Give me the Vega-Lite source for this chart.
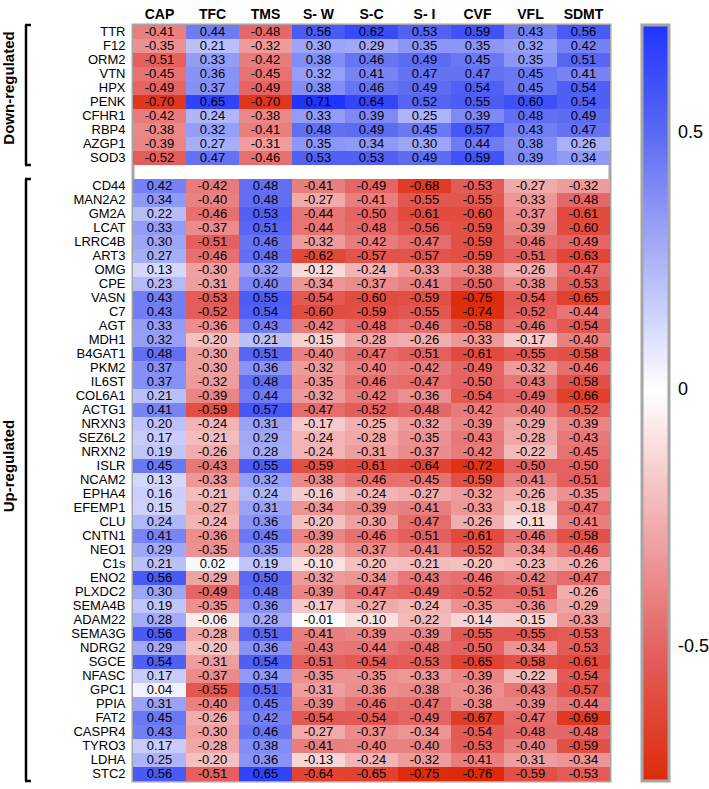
{
"$schema": "https://vega.github.io/schema/vega-lite/v6.json",
"padding": {"left": 0, "top": 5, "right": 0, "bottom": 5},
"config": {
  "font": "Liberation Sans",
  "locale": {"number": {"decimal": ".", "thousands": ",", "grouping": [3], "currency": ["$", ""], "minus": "-"}},
  "view": {"stroke": null}
},
"datasets": {
"groups": [
  {"group": "Down-regulated", "start": "TTR", "end": "SOD3", "mid": "HPX"},
  {"group": "Up-regulated", "start": "CD44", "end": "STC2", "mid": "ISLR"}
],
"cells": [
{"g":"TTR","m":"CAP","r":-0.41},{"g":"TTR","m":"TFC","r":0.44},{"g":"TTR","m":"TMS","r":-0.48},{"g":"TTR","m":"S- W","r":0.56},{"g":"TTR","m":"S-C","r":0.62},{"g":"TTR","m":"S- I","r":0.53},{"g":"TTR","m":"CVF","r":0.59},{"g":"TTR","m":"VFL","r":0.43},{"g":"TTR","m":"SDMT","r":0.56},
{"g":"F12","m":"CAP","r":-0.35},{"g":"F12","m":"TFC","r":0.21},{"g":"F12","m":"TMS","r":-0.32},{"g":"F12","m":"S- W","r":0.30},{"g":"F12","m":"S-C","r":0.29},{"g":"F12","m":"S- I","r":0.35},{"g":"F12","m":"CVF","r":0.35},{"g":"F12","m":"VFL","r":0.32},{"g":"F12","m":"SDMT","r":0.42},
{"g":"ORM2","m":"CAP","r":-0.51},{"g":"ORM2","m":"TFC","r":0.33},{"g":"ORM2","m":"TMS","r":-0.42},{"g":"ORM2","m":"S- W","r":0.38},{"g":"ORM2","m":"S-C","r":0.46},{"g":"ORM2","m":"S- I","r":0.49},{"g":"ORM2","m":"CVF","r":0.45},{"g":"ORM2","m":"VFL","r":0.35},{"g":"ORM2","m":"SDMT","r":0.51},
{"g":"VTN","m":"CAP","r":-0.45},{"g":"VTN","m":"TFC","r":0.36},{"g":"VTN","m":"TMS","r":-0.45},{"g":"VTN","m":"S- W","r":0.32},{"g":"VTN","m":"S-C","r":0.41},{"g":"VTN","m":"S- I","r":0.47},{"g":"VTN","m":"CVF","r":0.47},{"g":"VTN","m":"VFL","r":0.45},{"g":"VTN","m":"SDMT","r":0.41},
{"g":"HPX","m":"CAP","r":-0.49},{"g":"HPX","m":"TFC","r":0.37},{"g":"HPX","m":"TMS","r":-0.49},{"g":"HPX","m":"S- W","r":0.38},{"g":"HPX","m":"S-C","r":0.46},{"g":"HPX","m":"S- I","r":0.49},{"g":"HPX","m":"CVF","r":0.54},{"g":"HPX","m":"VFL","r":0.45},{"g":"HPX","m":"SDMT","r":0.54},
{"g":"PENK","m":"CAP","r":-0.70},{"g":"PENK","m":"TFC","r":0.65},{"g":"PENK","m":"TMS","r":-0.70},{"g":"PENK","m":"S- W","r":0.71},{"g":"PENK","m":"S-C","r":0.64},{"g":"PENK","m":"S- I","r":0.52},{"g":"PENK","m":"CVF","r":0.55},{"g":"PENK","m":"VFL","r":0.60},{"g":"PENK","m":"SDMT","r":0.54},
{"g":"CFHR1","m":"CAP","r":-0.42},{"g":"CFHR1","m":"TFC","r":0.24},{"g":"CFHR1","m":"TMS","r":-0.38},{"g":"CFHR1","m":"S- W","r":0.33},{"g":"CFHR1","m":"S-C","r":0.39},{"g":"CFHR1","m":"S- I","r":0.25},{"g":"CFHR1","m":"CVF","r":0.39},{"g":"CFHR1","m":"VFL","r":0.48},{"g":"CFHR1","m":"SDMT","r":0.49},
{"g":"RBP4","m":"CAP","r":-0.38},{"g":"RBP4","m":"TFC","r":0.32},{"g":"RBP4","m":"TMS","r":-0.41},{"g":"RBP4","m":"S- W","r":0.48},{"g":"RBP4","m":"S-C","r":0.49},{"g":"RBP4","m":"S- I","r":0.45},{"g":"RBP4","m":"CVF","r":0.57},{"g":"RBP4","m":"VFL","r":0.43},{"g":"RBP4","m":"SDMT","r":0.47},
{"g":"AZGP1","m":"CAP","r":-0.39},{"g":"AZGP1","m":"TFC","r":0.27},{"g":"AZGP1","m":"TMS","r":-0.31},{"g":"AZGP1","m":"S- W","r":0.35},{"g":"AZGP1","m":"S-C","r":0.34},{"g":"AZGP1","m":"S- I","r":0.30},{"g":"AZGP1","m":"CVF","r":0.44},{"g":"AZGP1","m":"VFL","r":0.38},{"g":"AZGP1","m":"SDMT","r":0.26},
{"g":"SOD3","m":"CAP","r":-0.52},{"g":"SOD3","m":"TFC","r":0.47},{"g":"SOD3","m":"TMS","r":-0.46},{"g":"SOD3","m":"S- W","r":0.53},{"g":"SOD3","m":"S-C","r":0.53},{"g":"SOD3","m":"S- I","r":0.49},{"g":"SOD3","m":"CVF","r":0.59},{"g":"SOD3","m":"VFL","r":0.39},{"g":"SOD3","m":"SDMT","r":0.34},
{"g":"CD44","m":"CAP","r":0.42},{"g":"CD44","m":"TFC","r":-0.42},{"g":"CD44","m":"TMS","r":0.48},{"g":"CD44","m":"S- W","r":-0.41},{"g":"CD44","m":"S-C","r":-0.49},{"g":"CD44","m":"S- I","r":-0.68},{"g":"CD44","m":"CVF","r":-0.53},{"g":"CD44","m":"VFL","r":-0.27},{"g":"CD44","m":"SDMT","r":-0.32},
{"g":"MAN2A2","m":"CAP","r":0.34},{"g":"MAN2A2","m":"TFC","r":-0.40},{"g":"MAN2A2","m":"TMS","r":0.48},{"g":"MAN2A2","m":"S- W","r":-0.27},{"g":"MAN2A2","m":"S-C","r":-0.41},{"g":"MAN2A2","m":"S- I","r":-0.55},{"g":"MAN2A2","m":"CVF","r":-0.55},{"g":"MAN2A2","m":"VFL","r":-0.33},{"g":"MAN2A2","m":"SDMT","r":-0.48},
{"g":"GM2A","m":"CAP","r":0.22},{"g":"GM2A","m":"TFC","r":-0.46},{"g":"GM2A","m":"TMS","r":0.53},{"g":"GM2A","m":"S- W","r":-0.44},{"g":"GM2A","m":"S-C","r":-0.50},{"g":"GM2A","m":"S- I","r":-0.61},{"g":"GM2A","m":"CVF","r":-0.60},{"g":"GM2A","m":"VFL","r":-0.37},{"g":"GM2A","m":"SDMT","r":-0.61},
{"g":"LCAT","m":"CAP","r":0.33},{"g":"LCAT","m":"TFC","r":-0.37},{"g":"LCAT","m":"TMS","r":0.51},{"g":"LCAT","m":"S- W","r":-0.44},{"g":"LCAT","m":"S-C","r":-0.48},{"g":"LCAT","m":"S- I","r":-0.56},{"g":"LCAT","m":"CVF","r":-0.59},{"g":"LCAT","m":"VFL","r":-0.39},{"g":"LCAT","m":"SDMT","r":-0.60},
{"g":"LRRC4B","m":"CAP","r":0.30},{"g":"LRRC4B","m":"TFC","r":-0.51},{"g":"LRRC4B","m":"TMS","r":0.46},{"g":"LRRC4B","m":"S- W","r":-0.32},{"g":"LRRC4B","m":"S-C","r":-0.42},{"g":"LRRC4B","m":"S- I","r":-0.47},{"g":"LRRC4B","m":"CVF","r":-0.59},{"g":"LRRC4B","m":"VFL","r":-0.46},{"g":"LRRC4B","m":"SDMT","r":-0.49},
{"g":"ART3","m":"CAP","r":0.27},{"g":"ART3","m":"TFC","r":-0.46},{"g":"ART3","m":"TMS","r":0.48},{"g":"ART3","m":"S- W","r":-0.62},{"g":"ART3","m":"S-C","r":-0.57},{"g":"ART3","m":"S- I","r":-0.57},{"g":"ART3","m":"CVF","r":-0.59},{"g":"ART3","m":"VFL","r":-0.51},{"g":"ART3","m":"SDMT","r":-0.63},
{"g":"OMG","m":"CAP","r":0.13},{"g":"OMG","m":"TFC","r":-0.30},{"g":"OMG","m":"TMS","r":0.32},{"g":"OMG","m":"S- W","r":-0.12},{"g":"OMG","m":"S-C","r":-0.24},{"g":"OMG","m":"S- I","r":-0.33},{"g":"OMG","m":"CVF","r":-0.38},{"g":"OMG","m":"VFL","r":-0.26},{"g":"OMG","m":"SDMT","r":-0.47},
{"g":"CPE","m":"CAP","r":0.23},{"g":"CPE","m":"TFC","r":-0.31},{"g":"CPE","m":"TMS","r":0.40},{"g":"CPE","m":"S- W","r":-0.34},{"g":"CPE","m":"S-C","r":-0.37},{"g":"CPE","m":"S- I","r":-0.41},{"g":"CPE","m":"CVF","r":-0.50},{"g":"CPE","m":"VFL","r":-0.38},{"g":"CPE","m":"SDMT","r":-0.53},
{"g":"VASN","m":"CAP","r":0.43},{"g":"VASN","m":"TFC","r":-0.53},{"g":"VASN","m":"TMS","r":0.55},{"g":"VASN","m":"S- W","r":-0.54},{"g":"VASN","m":"S-C","r":-0.60},{"g":"VASN","m":"S- I","r":-0.59},{"g":"VASN","m":"CVF","r":-0.75},{"g":"VASN","m":"VFL","r":-0.54},{"g":"VASN","m":"SDMT","r":-0.65},
{"g":"C7","m":"CAP","r":0.43},{"g":"C7","m":"TFC","r":-0.52},{"g":"C7","m":"TMS","r":0.54},{"g":"C7","m":"S- W","r":-0.60},{"g":"C7","m":"S-C","r":-0.59},{"g":"C7","m":"S- I","r":-0.55},{"g":"C7","m":"CVF","r":-0.74},{"g":"C7","m":"VFL","r":-0.52},{"g":"C7","m":"SDMT","r":-0.44},
{"g":"AGT","m":"CAP","r":0.33},{"g":"AGT","m":"TFC","r":-0.36},{"g":"AGT","m":"TMS","r":0.43},{"g":"AGT","m":"S- W","r":-0.42},{"g":"AGT","m":"S-C","r":-0.48},{"g":"AGT","m":"S- I","r":-0.46},{"g":"AGT","m":"CVF","r":-0.58},{"g":"AGT","m":"VFL","r":-0.46},{"g":"AGT","m":"SDMT","r":-0.54},
{"g":"MDH1","m":"CAP","r":0.32},{"g":"MDH1","m":"TFC","r":-0.20},{"g":"MDH1","m":"TMS","r":0.21},{"g":"MDH1","m":"S- W","r":-0.15},{"g":"MDH1","m":"S-C","r":-0.28},{"g":"MDH1","m":"S- I","r":-0.26},{"g":"MDH1","m":"CVF","r":-0.33},{"g":"MDH1","m":"VFL","r":-0.17},{"g":"MDH1","m":"SDMT","r":-0.40},
{"g":"B4GAT1","m":"CAP","r":0.48},{"g":"B4GAT1","m":"TFC","r":-0.30},{"g":"B4GAT1","m":"TMS","r":0.51},{"g":"B4GAT1","m":"S- W","r":-0.40},{"g":"B4GAT1","m":"S-C","r":-0.47},{"g":"B4GAT1","m":"S- I","r":-0.51},{"g":"B4GAT1","m":"CVF","r":-0.61},{"g":"B4GAT1","m":"VFL","r":-0.55},{"g":"B4GAT1","m":"SDMT","r":-0.58},
{"g":"PKM2","m":"CAP","r":0.37},{"g":"PKM2","m":"TFC","r":-0.30},{"g":"PKM2","m":"TMS","r":0.36},{"g":"PKM2","m":"S- W","r":-0.32},{"g":"PKM2","m":"S-C","r":-0.40},{"g":"PKM2","m":"S- I","r":-0.42},{"g":"PKM2","m":"CVF","r":-0.49},{"g":"PKM2","m":"VFL","r":-0.32},{"g":"PKM2","m":"SDMT","r":-0.46},
{"g":"IL6ST","m":"CAP","r":0.37},{"g":"IL6ST","m":"TFC","r":-0.32},{"g":"IL6ST","m":"TMS","r":0.48},{"g":"IL6ST","m":"S- W","r":-0.35},{"g":"IL6ST","m":"S-C","r":-0.46},{"g":"IL6ST","m":"S- I","r":-0.47},{"g":"IL6ST","m":"CVF","r":-0.50},{"g":"IL6ST","m":"VFL","r":-0.43},{"g":"IL6ST","m":"SDMT","r":-0.58},
{"g":"COL6A1","m":"CAP","r":0.21},{"g":"COL6A1","m":"TFC","r":-0.39},{"g":"COL6A1","m":"TMS","r":0.44},{"g":"COL6A1","m":"S- W","r":-0.32},{"g":"COL6A1","m":"S-C","r":-0.42},{"g":"COL6A1","m":"S- I","r":-0.36},{"g":"COL6A1","m":"CVF","r":-0.54},{"g":"COL6A1","m":"VFL","r":-0.49},{"g":"COL6A1","m":"SDMT","r":-0.66},
{"g":"ACTG1","m":"CAP","r":0.41},{"g":"ACTG1","m":"TFC","r":-0.59},{"g":"ACTG1","m":"TMS","r":0.57},{"g":"ACTG1","m":"S- W","r":-0.47},{"g":"ACTG1","m":"S-C","r":-0.52},{"g":"ACTG1","m":"S- I","r":-0.48},{"g":"ACTG1","m":"CVF","r":-0.42},{"g":"ACTG1","m":"VFL","r":-0.40},{"g":"ACTG1","m":"SDMT","r":-0.52},
{"g":"NRXN3","m":"CAP","r":0.20},{"g":"NRXN3","m":"TFC","r":-0.24},{"g":"NRXN3","m":"TMS","r":0.31},{"g":"NRXN3","m":"S- W","r":-0.17},{"g":"NRXN3","m":"S-C","r":-0.25},{"g":"NRXN3","m":"S- I","r":-0.32},{"g":"NRXN3","m":"CVF","r":-0.39},{"g":"NRXN3","m":"VFL","r":-0.29},{"g":"NRXN3","m":"SDMT","r":-0.39},
{"g":"SEZ6L2","m":"CAP","r":0.17},{"g":"SEZ6L2","m":"TFC","r":-0.21},{"g":"SEZ6L2","m":"TMS","r":0.29},{"g":"SEZ6L2","m":"S- W","r":-0.24},{"g":"SEZ6L2","m":"S-C","r":-0.28},{"g":"SEZ6L2","m":"S- I","r":-0.35},{"g":"SEZ6L2","m":"CVF","r":-0.43},{"g":"SEZ6L2","m":"VFL","r":-0.28},{"g":"SEZ6L2","m":"SDMT","r":-0.43},
{"g":"NRXN2","m":"CAP","r":0.19},{"g":"NRXN2","m":"TFC","r":-0.26},{"g":"NRXN2","m":"TMS","r":0.28},{"g":"NRXN2","m":"S- W","r":-0.24},{"g":"NRXN2","m":"S-C","r":-0.31},{"g":"NRXN2","m":"S- I","r":-0.37},{"g":"NRXN2","m":"CVF","r":-0.42},{"g":"NRXN2","m":"VFL","r":-0.22},{"g":"NRXN2","m":"SDMT","r":-0.45},
{"g":"ISLR","m":"CAP","r":0.45},{"g":"ISLR","m":"TFC","r":-0.43},{"g":"ISLR","m":"TMS","r":0.55},{"g":"ISLR","m":"S- W","r":-0.59},{"g":"ISLR","m":"S-C","r":-0.61},{"g":"ISLR","m":"S- I","r":-0.64},{"g":"ISLR","m":"CVF","r":-0.72},{"g":"ISLR","m":"VFL","r":-0.50},{"g":"ISLR","m":"SDMT","r":-0.50},
{"g":"NCAM2","m":"CAP","r":0.13},{"g":"NCAM2","m":"TFC","r":-0.33},{"g":"NCAM2","m":"TMS","r":0.32},{"g":"NCAM2","m":"S- W","r":-0.38},{"g":"NCAM2","m":"S-C","r":-0.46},{"g":"NCAM2","m":"S- I","r":-0.45},{"g":"NCAM2","m":"CVF","r":-0.59},{"g":"NCAM2","m":"VFL","r":-0.41},{"g":"NCAM2","m":"SDMT","r":-0.51},
{"g":"EPHA4","m":"CAP","r":0.16},{"g":"EPHA4","m":"TFC","r":-0.21},{"g":"EPHA4","m":"TMS","r":0.24},{"g":"EPHA4","m":"S- W","r":-0.16},{"g":"EPHA4","m":"S-C","r":-0.24},{"g":"EPHA4","m":"S- I","r":-0.27},{"g":"EPHA4","m":"CVF","r":-0.32},{"g":"EPHA4","m":"VFL","r":-0.26},{"g":"EPHA4","m":"SDMT","r":-0.35},
{"g":"EFEMP1","m":"CAP","r":0.15},{"g":"EFEMP1","m":"TFC","r":-0.27},{"g":"EFEMP1","m":"TMS","r":0.31},{"g":"EFEMP1","m":"S- W","r":-0.34},{"g":"EFEMP1","m":"S-C","r":-0.39},{"g":"EFEMP1","m":"S- I","r":-0.41},{"g":"EFEMP1","m":"CVF","r":-0.33},{"g":"EFEMP1","m":"VFL","r":-0.18},{"g":"EFEMP1","m":"SDMT","r":-0.47},
{"g":"CLU","m":"CAP","r":0.24},{"g":"CLU","m":"TFC","r":-0.24},{"g":"CLU","m":"TMS","r":0.36},{"g":"CLU","m":"S- W","r":-0.20},{"g":"CLU","m":"S-C","r":-0.30},{"g":"CLU","m":"S- I","r":-0.47},{"g":"CLU","m":"CVF","r":-0.26},{"g":"CLU","m":"VFL","r":-0.11},{"g":"CLU","m":"SDMT","r":-0.41},
{"g":"CNTN1","m":"CAP","r":0.41},{"g":"CNTN1","m":"TFC","r":-0.36},{"g":"CNTN1","m":"TMS","r":0.45},{"g":"CNTN1","m":"S- W","r":-0.39},{"g":"CNTN1","m":"S-C","r":-0.46},{"g":"CNTN1","m":"S- I","r":-0.51},{"g":"CNTN1","m":"CVF","r":-0.61},{"g":"CNTN1","m":"VFL","r":-0.46},{"g":"CNTN1","m":"SDMT","r":-0.58},
{"g":"NEO1","m":"CAP","r":0.29},{"g":"NEO1","m":"TFC","r":-0.35},{"g":"NEO1","m":"TMS","r":0.35},{"g":"NEO1","m":"S- W","r":-0.28},{"g":"NEO1","m":"S-C","r":-0.37},{"g":"NEO1","m":"S- I","r":-0.41},{"g":"NEO1","m":"CVF","r":-0.52},{"g":"NEO1","m":"VFL","r":-0.34},{"g":"NEO1","m":"SDMT","r":-0.46},
{"g":"C1s","m":"CAP","r":0.21},{"g":"C1s","m":"TFC","r":0.02},{"g":"C1s","m":"TMS","r":0.19},{"g":"C1s","m":"S- W","r":-0.10},{"g":"C1s","m":"S-C","r":-0.20},{"g":"C1s","m":"S- I","r":-0.21},{"g":"C1s","m":"CVF","r":-0.20},{"g":"C1s","m":"VFL","r":-0.23},{"g":"C1s","m":"SDMT","r":-0.26},
{"g":"ENO2","m":"CAP","r":0.56},{"g":"ENO2","m":"TFC","r":-0.29},{"g":"ENO2","m":"TMS","r":0.50},{"g":"ENO2","m":"S- W","r":-0.32},{"g":"ENO2","m":"S-C","r":-0.34},{"g":"ENO2","m":"S- I","r":-0.43},{"g":"ENO2","m":"CVF","r":-0.46},{"g":"ENO2","m":"VFL","r":-0.42},{"g":"ENO2","m":"SDMT","r":-0.47},
{"g":"PLXDC2","m":"CAP","r":0.30},{"g":"PLXDC2","m":"TFC","r":-0.49},{"g":"PLXDC2","m":"TMS","r":0.48},{"g":"PLXDC2","m":"S- W","r":-0.39},{"g":"PLXDC2","m":"S-C","r":-0.47},{"g":"PLXDC2","m":"S- I","r":-0.49},{"g":"PLXDC2","m":"CVF","r":-0.52},{"g":"PLXDC2","m":"VFL","r":-0.51},{"g":"PLXDC2","m":"SDMT","r":-0.26},
{"g":"SEMA4B","m":"CAP","r":0.19},{"g":"SEMA4B","m":"TFC","r":-0.35},{"g":"SEMA4B","m":"TMS","r":0.36},{"g":"SEMA4B","m":"S- W","r":-0.17},{"g":"SEMA4B","m":"S-C","r":-0.27},{"g":"SEMA4B","m":"S- I","r":-0.24},{"g":"SEMA4B","m":"CVF","r":-0.35},{"g":"SEMA4B","m":"VFL","r":-0.36},{"g":"SEMA4B","m":"SDMT","r":-0.29},
{"g":"ADAM22","m":"CAP","r":0.28},{"g":"ADAM22","m":"TFC","r":-0.06},{"g":"ADAM22","m":"TMS","r":0.28},{"g":"ADAM22","m":"S- W","r":-0.01},{"g":"ADAM22","m":"S-C","r":-0.10},{"g":"ADAM22","m":"S- I","r":-0.22},{"g":"ADAM22","m":"CVF","r":-0.14},{"g":"ADAM22","m":"VFL","r":-0.15},{"g":"ADAM22","m":"SDMT","r":-0.33},
{"g":"SEMA3G","m":"CAP","r":0.56},{"g":"SEMA3G","m":"TFC","r":-0.28},{"g":"SEMA3G","m":"TMS","r":0.51},{"g":"SEMA3G","m":"S- W","r":-0.41},{"g":"SEMA3G","m":"S-C","r":-0.39},{"g":"SEMA3G","m":"S- I","r":-0.39},{"g":"SEMA3G","m":"CVF","r":-0.55},{"g":"SEMA3G","m":"VFL","r":-0.55},{"g":"SEMA3G","m":"SDMT","r":-0.53},
{"g":"NDRG2","m":"CAP","r":0.29},{"g":"NDRG2","m":"TFC","r":-0.20},{"g":"NDRG2","m":"TMS","r":0.36},{"g":"NDRG2","m":"S- W","r":-0.43},{"g":"NDRG2","m":"S-C","r":-0.44},{"g":"NDRG2","m":"S- I","r":-0.48},{"g":"NDRG2","m":"CVF","r":-0.50},{"g":"NDRG2","m":"VFL","r":-0.34},{"g":"NDRG2","m":"SDMT","r":-0.53},
{"g":"SGCE","m":"CAP","r":0.54},{"g":"SGCE","m":"TFC","r":-0.31},{"g":"SGCE","m":"TMS","r":0.54},{"g":"SGCE","m":"S- W","r":-0.51},{"g":"SGCE","m":"S-C","r":-0.54},{"g":"SGCE","m":"S- I","r":-0.53},{"g":"SGCE","m":"CVF","r":-0.65},{"g":"SGCE","m":"VFL","r":-0.58},{"g":"SGCE","m":"SDMT","r":-0.61},
{"g":"NFASC","m":"CAP","r":0.17},{"g":"NFASC","m":"TFC","r":-0.37},{"g":"NFASC","m":"TMS","r":0.34},{"g":"NFASC","m":"S- W","r":-0.35},{"g":"NFASC","m":"S-C","r":-0.35},{"g":"NFASC","m":"S- I","r":-0.33},{"g":"NFASC","m":"CVF","r":-0.39},{"g":"NFASC","m":"VFL","r":-0.22},{"g":"NFASC","m":"SDMT","r":-0.54},
{"g":"GPC1","m":"CAP","r":0.04},{"g":"GPC1","m":"TFC","r":-0.55},{"g":"GPC1","m":"TMS","r":0.51},{"g":"GPC1","m":"S- W","r":-0.31},{"g":"GPC1","m":"S-C","r":-0.36},{"g":"GPC1","m":"S- I","r":-0.38},{"g":"GPC1","m":"CVF","r":-0.36},{"g":"GPC1","m":"VFL","r":-0.43},{"g":"GPC1","m":"SDMT","r":-0.57},
{"g":"PPIA","m":"CAP","r":0.31},{"g":"PPIA","m":"TFC","r":-0.40},{"g":"PPIA","m":"TMS","r":0.45},{"g":"PPIA","m":"S- W","r":-0.39},{"g":"PPIA","m":"S-C","r":-0.46},{"g":"PPIA","m":"S- I","r":-0.47},{"g":"PPIA","m":"CVF","r":-0.38},{"g":"PPIA","m":"VFL","r":-0.39},{"g":"PPIA","m":"SDMT","r":-0.44},
{"g":"FAT2","m":"CAP","r":0.45},{"g":"FAT2","m":"TFC","r":-0.26},{"g":"FAT2","m":"TMS","r":0.42},{"g":"FAT2","m":"S- W","r":-0.54},{"g":"FAT2","m":"S-C","r":-0.54},{"g":"FAT2","m":"S- I","r":-0.49},{"g":"FAT2","m":"CVF","r":-0.67},{"g":"FAT2","m":"VFL","r":-0.47},{"g":"FAT2","m":"SDMT","r":-0.69},
{"g":"CASPR4","m":"CAP","r":0.43},{"g":"CASPR4","m":"TFC","r":-0.30},{"g":"CASPR4","m":"TMS","r":0.46},{"g":"CASPR4","m":"S- W","r":-0.27},{"g":"CASPR4","m":"S-C","r":-0.37},{"g":"CASPR4","m":"S- I","r":-0.34},{"g":"CASPR4","m":"CVF","r":-0.54},{"g":"CASPR4","m":"VFL","r":-0.48},{"g":"CASPR4","m":"SDMT","r":-0.48},
{"g":"TYRO3","m":"CAP","r":0.17},{"g":"TYRO3","m":"TFC","r":-0.28},{"g":"TYRO3","m":"TMS","r":0.38},{"g":"TYRO3","m":"S- W","r":-0.41},{"g":"TYRO3","m":"S-C","r":-0.40},{"g":"TYRO3","m":"S- I","r":-0.40},{"g":"TYRO3","m":"CVF","r":-0.53},{"g":"TYRO3","m":"VFL","r":-0.40},{"g":"TYRO3","m":"SDMT","r":-0.59},
{"g":"LDHA","m":"CAP","r":0.25},{"g":"LDHA","m":"TFC","r":-0.20},{"g":"LDHA","m":"TMS","r":0.36},{"g":"LDHA","m":"S- W","r":-0.13},{"g":"LDHA","m":"S-C","r":-0.24},{"g":"LDHA","m":"S- I","r":-0.32},{"g":"LDHA","m":"CVF","r":-0.41},{"g":"LDHA","m":"VFL","r":-0.31},{"g":"LDHA","m":"SDMT","r":-0.34},
{"g":"STC2","m":"CAP","r":0.56},{"g":"STC2","m":"TFC","r":-0.51},{"g":"STC2","m":"TMS","r":0.65},{"g":"STC2","m":"S- W","r":-0.64},{"g":"STC2","m":"S-C","r":-0.65},{"g":"STC2","m":"S- I","r":-0.75},{"g":"STC2","m":"CVF","r":-0.76},{"g":"STC2","m":"VFL","r":-0.59},{"g":"STC2","m":"SDMT","r":-0.53}
]
},
"hconcat": [
{
  "width": 30,
  "height": 756,
  "view": {"stroke": null},
  "data": {"name": "groups"},
  "layer": [
    {
      "mark": {"type": "rule", "color": "#000000", "strokeWidth": 2.5},
      "encoding": {
        "x": {"datum": 26, "type": "quantitative", "scale": {"domain": [0, 30]}, "axis": null},
        "y": {"field": "start", "type": "nominal", "bandPosition": 0, "axis": null,
              "scale": {"type": "band", "paddingInner": 0, "paddingOuter": 0, "domain": ["TTR","F12","ORM2","VTN","HPX","PENK","CFHR1","RBP4","AZGP1","SOD3"," ","CD44","MAN2A2","GM2A","LCAT","LRRC4B","ART3","OMG","CPE","VASN","C7","AGT","MDH1","B4GAT1","PKM2","IL6ST","COL6A1","ACTG1","NRXN3","SEZ6L2","NRXN2","ISLR","NCAM2","EPHA4","EFEMP1","CLU","CNTN1","NEO1","C1s","ENO2","PLXDC2","SEMA4B","ADAM22","SEMA3G","NDRG2","SGCE","NFASC","GPC1","PPIA","FAT2","CASPR4","TYRO3","LDHA","STC2"]}},
        "y2": {"field": "end", "bandPosition": 1}
      }
    },
    {
      "mark": {"type": "rule", "color": "#000000", "strokeWidth": 2.5},
      "encoding": {
        "x": {"datum": 25, "type": "quantitative"},
        "x2": {"datum": 31},
        "y": {"field": "start", "type": "nominal", "bandPosition": 0}
      }
    },
    {
      "mark": {"type": "rule", "color": "#000000", "strokeWidth": 2.5},
      "encoding": {
        "x": {"datum": 25, "type": "quantitative"},
        "x2": {"datum": 31},
        "y": {"field": "end", "type": "nominal", "bandPosition": 1}
      }
    },
    {
      "mark": {"type": "text", "angle": 270, "fontWeight": "bold", "fontSize": 15, "align": "center", "baseline": "middle", "color": "#000000"},
      "encoding": {
        "x": {"datum": 9, "type": "quantitative"},
        "y": {"field": "mid", "type": "nominal", "bandPosition": 0.5},
        "text": {"field": "group"}
      }
    }
  ]
},
{
  "width": 477,
  "height": 756,
  "view": {"stroke": "#a6a6a6", "strokeWidth": 3},
  "data": {"name": "cells"},
  "encoding": {
    "x": {"field": "m", "type": "nominal", "title": null,
          "scale": {"paddingInner": 0, "paddingOuter": 0, "domain": ["CAP","TFC","TMS","S- W","S-C","S- I","CVF","VFL","SDMT"]},
          "axis": {"orient": "top", "labelAngle": 0, "labelFontWeight": "bold", "labelFontSize": 14, "labelColor": "#000000", "ticks": false, "domain": false, "labelPadding": 4}},
    "y": {"field": "g", "type": "nominal", "title": null,
          "scale": {"paddingInner": 0, "paddingOuter": 0, "domain": ["TTR","F12","ORM2","VTN","HPX","PENK","CFHR1","RBP4","AZGP1","SOD3"," ","CD44","MAN2A2","GM2A","LCAT","LRRC4B","ART3","OMG","CPE","VASN","C7","AGT","MDH1","B4GAT1","PKM2","IL6ST","COL6A1","ACTG1","NRXN3","SEZ6L2","NRXN2","ISLR","NCAM2","EPHA4","EFEMP1","CLU","CNTN1","NEO1","C1s","ENO2","PLXDC2","SEMA4B","ADAM22","SEMA3G","NDRG2","SGCE","NFASC","GPC1","PPIA","FAT2","CASPR4","TYRO3","LDHA","STC2"]},
          "axis": {"labelFontSize": 13, "labelColor": "#000000", "ticks": false, "domain": false, "labelPadding": 8}}
  },
  "layer": [
    {
      "mark": {"type": "rect"},
      "encoding": {
        "color": {"field": "r", "type": "quantitative",
          "scale": {"type": "linear", "domain": [-0.76, -0.5, 0, 0.5, 0.71], "range": ["#dd2a0a", "#e46262", "#ffffff", "#5b69f2", "#1f34ff"], "interpolate": "rgb"},
          "legend": {"title": null, "values": [-0.5, 0, 0.5], "format": ".1~f", "direction": "vertical", "gradientLength": 756, "gradientThickness": 27, "gradientStrokeColor": "#a6a6a6", "gradientStrokeWidth": 3, "labelFontSize": 18, "labelColor": "#000000", "labelOffset": 9, "offset": 30}}
      }
    },
    {
      "mark": {"type": "text", "fontSize": 13, "color": "#000000", "baseline": "middle"},
      "encoding": {
        "text": {"field": "r", "type": "quantitative", "format": ".2f"}
      }
    }
  ]
}
],
"spacing": 36
}
